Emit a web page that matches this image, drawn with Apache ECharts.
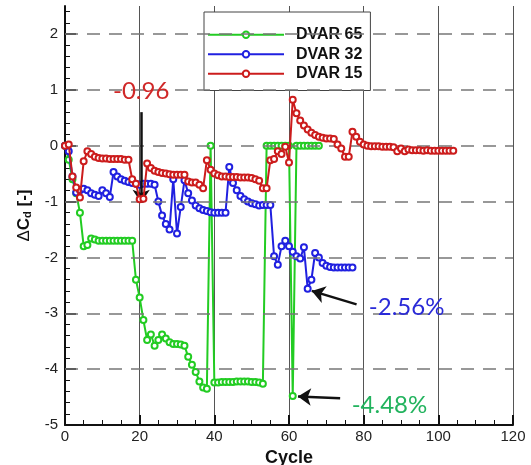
<!DOCTYPE html>
<html>
<head>
<meta charset="utf-8">
<script src="https://cdn.jsdelivr.net/npm/echarts@6/dist/echarts.min.js"></script>
<style>html,body{margin:0;padding:0;background:#fff}#c{width:531px;height:465px}</style>
</head>
<body>
<div id="c"></div>
<script>
const names = ['DVAR 65', 'DVAR 32', 'DVAR 15'];
const colors = ['#22cc22', '#2020e0', '#cc1c1c'];

const dvar65 = [0, -0.25, -0.6, -0.85, -1.2, -1.8, -1.78, -1.66, -1.68, -1.7,
  -1.7, -1.7, -1.7, -1.7, -1.7, -1.7, -1.7, -1.7, -1.7, -2.4,
  -2.72, -3.12, -3.48, -3.38, -3.58, -3.48, -3.38, -3.45, -3.52, -3.55,
  -3.55, -3.56, -3.58, -3.78, -3.92, -4.05, -4.22, -4.33, -4.35, 0,
  -4.24, -4.24, -4.23, -4.23, -4.23, -4.23, -4.22, -4.22, -4.22, -4.22,
  -4.23, -4.23, -4.24, -4.26, 0, 0, 0, 0, 0, 0,
  0, -4.48, 0, 0, 0, 0, 0, 0, 0];

const dvar32 = [0, -0.1, -0.55, -0.84, -0.8, -0.77, -0.8, -0.85, -0.88, -0.9,
  -0.8, -0.85, -0.92, -0.47, -0.55, -0.6, -0.63, -0.65, -0.67, -0.68,
  -0.7, -0.68, -0.68, -0.68, -0.7, -1.0, -1.25, -1.4, -1.5, -0.6,
  -1.57, -1.1, -0.62, -0.85, -0.98, -1.07, -1.12, -1.15, -1.17, -1.19,
  -1.2, -1.2, -1.2, -1.2, -0.38, -0.67, -0.8, -0.9, -0.96, -1.0,
  -1.03, -1.05, -1.07, -1.06, -1.06, -1.06, -1.98, -2.13, -1.8, -1.7,
  -1.8, -1.9, -1.98, -2.02, -1.82, -2.56, -2.4, -1.92, -2.0, -2.1,
  -2.15, -2.17, -2.18, -2.18, -2.18, -2.18, -2.18, -2.18];

const dvar15 = [0, 0.02, -0.55, -0.75, -0.93, -0.28, -0.1, -0.15, -0.2, -0.22,
  -0.23, -0.23, -0.24, -0.24, -0.24, -0.24, -0.25, -0.25, -0.6, -0.68,
  -0.96, -0.95, -0.32, -0.4, -0.45, -0.47, -0.49, -0.5, -0.51, -0.52,
  -0.52, -0.52, -0.52, -0.64, -0.66, -0.66, -0.7, -0.76, -0.26, -0.43,
  -0.5, -0.53, -0.55, -0.55, -0.56, -0.56, -0.56, -0.57, -0.57, -0.57,
  -0.58, -0.6, -0.63, -0.76, -0.76, -0.26, -0.24, -0.1, -0.15, -0.02,
  -0.3, 0.82, 0.58, 0.45, 0.36, 0.29, 0.23, 0.19, 0.16, 0.14,
  0.13, 0.13, 0.12, 0.02, -0.05, -0.2, -0.2, 0.25, 0.16, 0.07,
  0.02, 0.0, -0.01, -0.01, -0.01, -0.02, -0.02, -0.02, -0.03, -0.1,
  -0.05, -0.1, -0.07, -0.08, -0.08, -0.08, -0.09, -0.08, -0.09, -0.09,
  -0.09, -0.09, -0.09, -0.09, -0.09];

const xTicks = [0, 20, 40, 60, 80, 100, 120];
const yTicks = [-5, -4, -3, -2, -1, 0, 1, 2];
const yMinorTicks = [];
for (let i = 0; i < yTicks.length; i++) {
  for (let k = 1; k < 5; k++) yMinorTicks.push(+(yTicks[i] + k * 0.2).toFixed(1));
}
const dashedLevels = [2, 1, 0, -1, -2, -3, -4];

// annotations: [text, cycle, value, colour]
const annTexts = [['-0.96', 20.4, 0.98, '#d02828'], ['-2.56%', 91.5, -2.9, '#2a2ad8'], ['-4.48%', 86.9, -4.64, '#22b35e']];
// arrows: [fromCycle, fromValue, toCycle, toValue]
const arrows = [[20.4, 0.6, 20.4, -1.02], [78.1, -2.84, 66.1, -2.6], [73.7, -4.52, 62.4, -4.49]];

const toPairs = arr => arr.map((v, i) => [i, v]);
const FONT = 'Liberation Sans';

const chart = echarts.init(document.getElementById('c'), null, { renderer: 'canvas' });
const dataSeries = [dvar65, dvar32, dvar15].map((arr, i) => ({
  name: names[i],
  type: 'line',
  data: toPairs(arr),
  symbol: 'emptyCircle',
  symbolSize: 6,
  showAllSymbol: true,
  lineStyle: { color: colors[i], width: 2 },
  itemStyle: { color: colors[i], borderWidth: 1.5 },
  z: 3 + i,
  animation: false
}));

chart.setOption({
  animation: false,
  grid: { left: 65, right: 18, top: 6, bottom: 40, outerBoundsMode: 'none', containLabel: false },
  legend: {
    data: names,
    orient: 'vertical',
    left: 204,
    top: 12,
    padding: [13, 8, 7, 3],
    itemWidth: 76,
    itemHeight: 8,
    itemGap: 0,
    backgroundColor: '#fff',
    borderColor: '#444',
    borderWidth: 1,
    textStyle: { fontFamily: FONT, fontSize: 16, fontWeight: 'bold', color: '#111', padding: [0, 0, 0, 7], lineHeight: 19.5 }
  },
  xAxis: {
    type: 'value', min: 0, max: 120, interval: 20,
    name: 'Cycle', nameLocation: 'middle', nameGap: 19,
    nameTextStyle: { fontFamily: FONT, fontSize: 18, fontWeight: 'bold', color: '#111' },
    axisLine: { onZero: false, lineStyle: { color: '#111', width: 2 } },
    axisTick: { inside: true, length: 10, lineStyle: { color: '#111', width: 2 } },
    minorTick: { show: true, splitNumber: 4, length: 5, lineStyle: { color: '#111', width: 1 } },
    splitLine: { show: true, lineStyle: { color: '#555', width: 1 } },
    axisLabel: { fontFamily: FONT, fontSize: 15, color: '#222', margin: 4, customValues: xTicks }
  },
  yAxis: [{
    type: 'value', min: -5, max: 2.5, interval: 1,
    name: '{a|\u0394}{b|C}{c|d}{b| [-]}', nameLocation: 'middle', nameGap: 28, nameRotate: 90,
    nameTextStyle: {
      fontFamily: FONT, color: '#111',
      rich: {
        a: { fontFamily: FONT, fontSize: 17, color: '#111' },
        b: { fontFamily: FONT, fontSize: 17, fontWeight: 'bold', color: '#111' },
        c: { fontFamily: FONT, fontSize: 11, fontWeight: 'bold', color: '#111', padding: [8, 0, 0, 0] }
      }
    },
    axisLine: { show: true, onZero: false, lineStyle: { color: '#111', width: 2 } },
    axisTick: { show: true, inside: true, length: 11, lineStyle: { color: '#111', width: 2 }, customValues: yTicks },
    splitLine: { show: false },
    axisLabel: { fontFamily: FONT, fontSize: 15, color: '#222', margin: 7, customValues: yTicks }
  }, {
    type: 'value', min: -5, max: 2.5, position: 'left',
    axisLine: { show: false },
    axisTick: { show: true, inside: true, length: 5, lineStyle: { color: '#111', width: 1 }, customValues: yMinorTicks },
    axisLabel: { show: false },
    splitLine: { show: false }
  }],
  series: [{
    type: 'line', data: [], z: 1, silent: true,
    markLine: {
      silent: true, symbol: 'none', animation: false,
      label: { show: false },
      lineStyle: { color: '#777', type: [13, 9], width: 1.5 },
      data: dashedLevels.map(v => ({ yAxis: v }))
    }
  }].concat(dataSeries).concat([{
    type: 'line', data: [], z: 10, silent: true,
    markLine: {
      silent: true, symbol: ['none', 'arrow'], symbolSize: 13, animation: false,
      label: { show: false },
      lineStyle: { color: '#111', type: 'solid', width: 2.5 },
      data: arrows.map(a => [{ coord: [a[0], a[1]] }, { coord: [a[2], a[3]] }])
    },
    markPoint: {
      silent: true, symbol: 'circle', symbolSize: 1, animation: false,
      itemStyle: { color: 'rgba(0,0,0,0)' },
      data: annTexts.map(t => ({
        coord: [t[1], t[2]],
        label: { show: true, position: 'inside', formatter: t[0], fontFamily: 'Lato', fontSize: 24, color: t[3] }
      }))
    }
  }])
});
</script>
</body>
</html>
